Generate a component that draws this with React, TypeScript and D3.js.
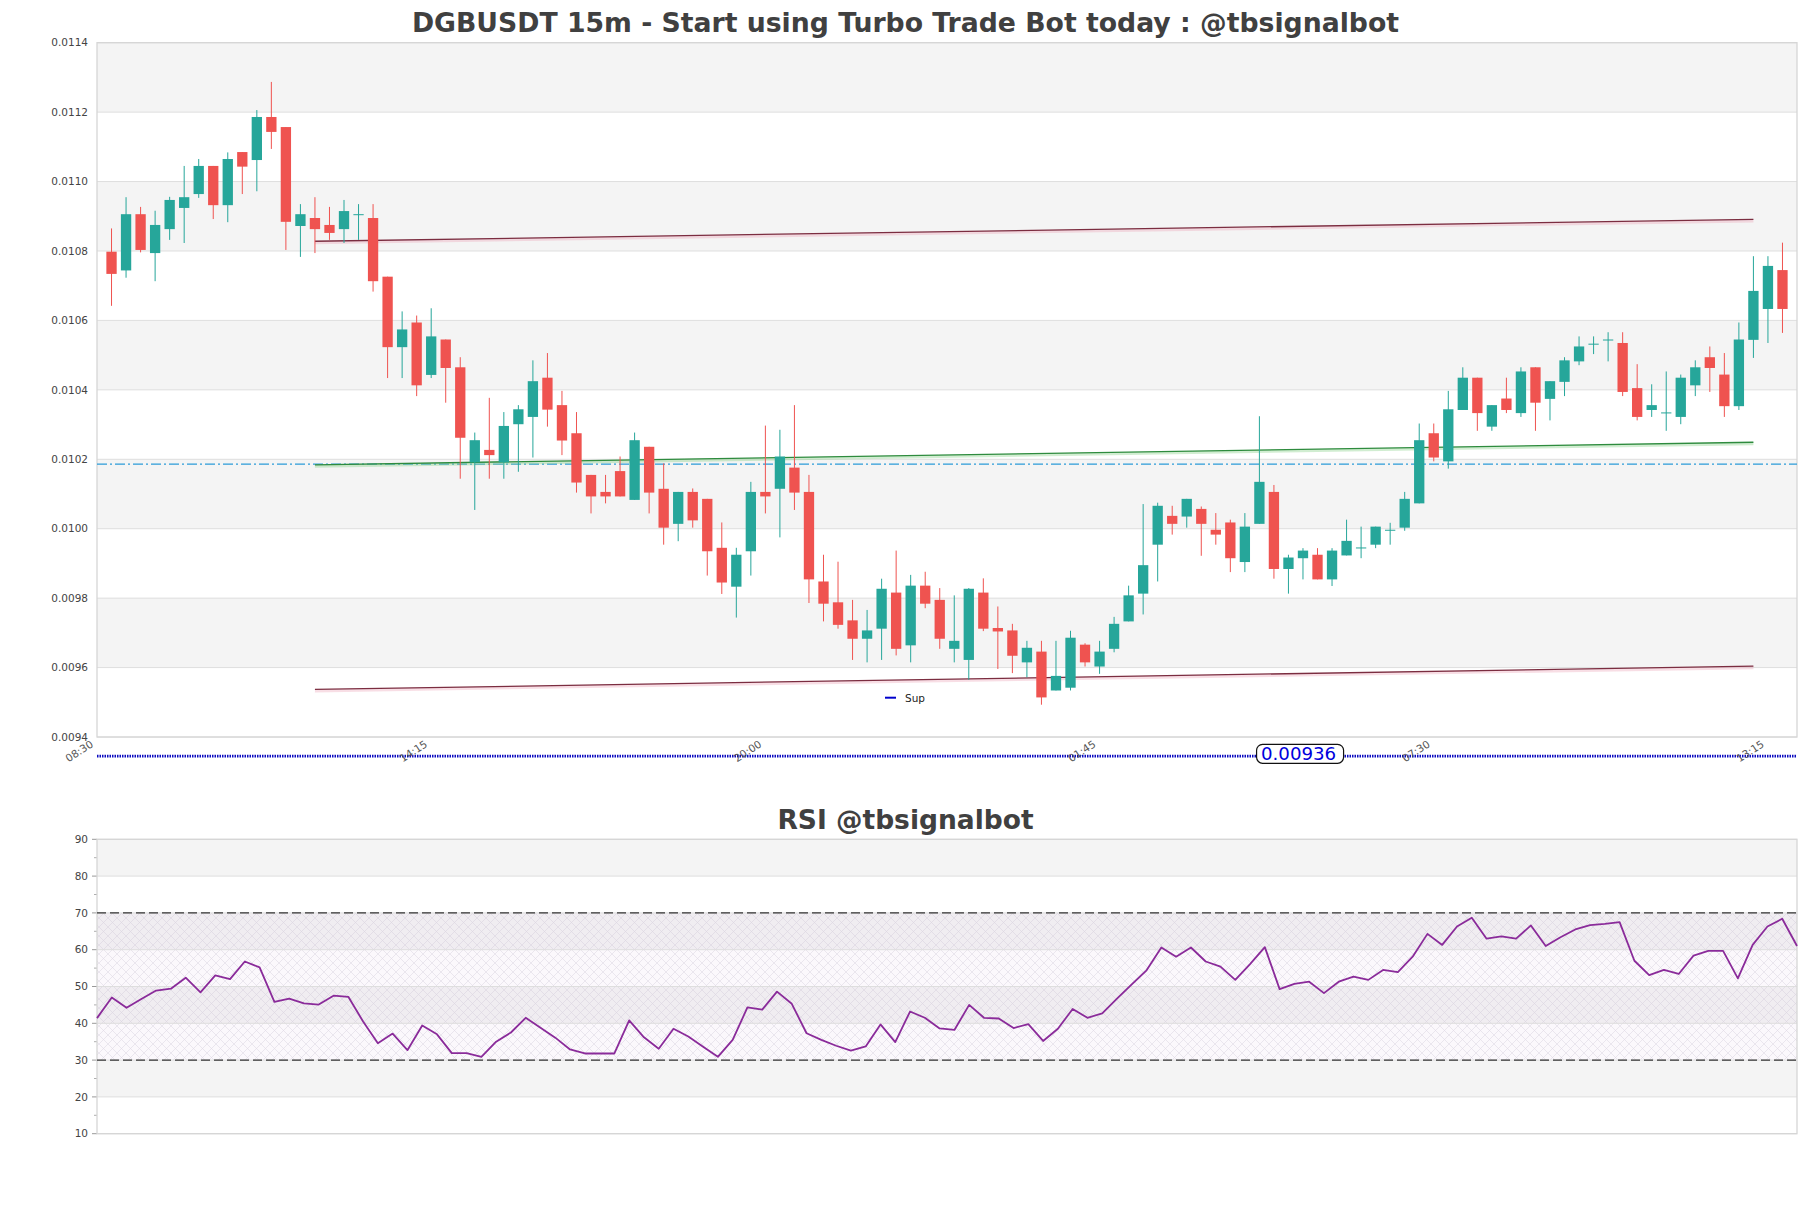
import React from "react";
import * as d3 from "d3";

// ---------- DATA ----------
const opens = [
  0.010798, 0.010744, 0.010906, 0.010794, 0.010863, 0.010924, 0.010964, 0.011045, 0.010932, 0.011085,
  0.011062, 0.011186, 0.011157, 0.010872, 0.010895, 0.010875, 0.010863, 0.010904, 0.010895, 0.010726,
  0.010523, 0.010594, 0.010443, 0.010545, 0.010465, 0.010191, 0.010227, 0.010191, 0.010301, 0.010322,
  0.010435, 0.010356, 0.010275, 0.010155, 0.010106, 0.010166, 0.010083, 0.010236, 0.010115, 0.010014,
  0.010106, 0.010086, 0.009945, 0.009833, 0.009935, 0.010106, 0.010115, 0.010176, 0.010106, 0.009848,
  0.009788, 0.009736, 0.009683, 0.009712, 0.009816, 0.009664, 0.009836, 0.009795, 0.009654, 0.009622,
  0.009816, 0.009714, 0.009707, 0.009615, 0.009646, 0.009534, 0.009542, 0.009666, 0.009603, 0.009654,
  0.009733, 0.009813, 0.009954, 0.010037, 0.010035, 0.010057, 0.009997, 0.010018, 0.009904, 0.010014,
  0.010106, 0.009884, 0.009915, 0.009925, 0.009854, 0.009923, 0.009944, 0.009954, 0.009995, 0.010003,
  0.010073, 0.010275, 0.010194, 0.010342, 0.010435, 0.010294, 0.010375, 0.010333, 0.010465, 0.010374,
  0.010423, 0.010482, 0.010531, 0.010543, 0.010535, 0.010405, 0.010342, 0.010333, 0.010322, 0.010413,
  0.010494, 0.010444, 0.010353, 0.010544, 0.010633, 0.010745,
];
const highs = [
  0.010865, 0.010955, 0.010927, 0.010916, 0.010956, 0.011045, 0.011065, 0.011045, 0.011084, 0.011085,
  0.011206, 0.011287, 0.011157, 0.010935, 0.010955, 0.010927, 0.010947, 0.010935, 0.010935, 0.010726,
  0.010626, 0.010614, 0.010635, 0.010545, 0.010494, 0.010277, 0.010377, 0.010336, 0.010356, 0.010485,
  0.010506, 0.010397, 0.010336, 0.010155, 0.010155, 0.010208, 0.010277, 0.010236, 0.010188, 0.010106,
  0.010116, 0.010086, 0.010018, 0.009945, 0.010135, 0.010297, 0.010285, 0.010356, 0.010155, 0.009925,
  0.009905, 0.009795, 0.009766, 0.009856, 0.009937, 0.009867, 0.009876, 0.009829, 0.009808, 0.009829,
  0.009857, 0.009776, 0.009726, 0.009677, 0.009677, 0.009677, 0.009706, 0.009670, 0.009677, 0.009746,
  0.009836, 0.010071, 0.010075, 0.010066, 0.010086, 0.010064, 0.010045, 0.010026, 0.010045, 0.010324,
  0.010126, 0.009925, 0.009944, 0.009944, 0.009944, 0.010026, 0.010006, 0.010006, 0.010017, 0.010106,
  0.010303, 0.010303, 0.010397, 0.010465, 0.010435, 0.010356, 0.010435, 0.010465, 0.010465, 0.010425,
  0.010494, 0.010554, 0.010554, 0.010566, 0.010566, 0.010474, 0.010416, 0.010453, 0.010444, 0.010485,
  0.010525, 0.010506, 0.010594, 0.010785, 0.010785, 0.010824,
];
const lows = [
  0.010642, 0.010723, 0.010796, 0.010713, 0.010832, 0.010823, 0.010953, 0.010892, 0.010883, 0.010964,
  0.010972, 0.011094, 0.010803, 0.010783, 0.010794, 0.010832, 0.010823, 0.010832, 0.010683, 0.010434,
  0.010434, 0.010382, 0.010434, 0.010363, 0.010144, 0.010054, 0.010144, 0.010144, 0.010164, 0.010205,
  0.010294, 0.010212, 0.010104, 0.010044, 0.010073, 0.010093, 0.010083, 0.010044, 0.009954, 0.009964,
  0.010003, 0.009865, 0.009812, 0.009744, 0.009865, 0.010044, 0.009975, 0.010054, 0.009786, 0.009733,
  0.009712, 0.009622, 0.009615, 0.009622, 0.009635, 0.009615, 0.009771, 0.009654, 0.009615, 0.009565,
  0.009705, 0.009596, 0.009584, 0.009572, 0.009493, 0.009534, 0.009534, 0.009603, 0.009582, 0.009644,
  0.009733, 0.009753, 0.009848, 0.009983, 0.010003, 0.009922, 0.009954, 0.009875, 0.009875, 0.010014,
  0.009856, 0.009813, 0.009854, 0.009854, 0.009835, 0.009923, 0.009915, 0.009944, 0.009954, 0.009994,
  0.010073, 0.010194, 0.010173, 0.010342, 0.010282, 0.010282, 0.010333, 0.010322, 0.010282, 0.010312,
  0.010382, 0.010471, 0.010503, 0.010482, 0.010382, 0.010312, 0.010322, 0.010282, 0.010301, 0.010382,
  0.010394, 0.010322, 0.010342, 0.010492, 0.010535, 0.010564,
];
const closes = [
  0.010734, 0.010906, 0.010803, 0.010875, 0.010947, 0.010955, 0.011045, 0.010932, 0.011065, 0.011043,
  0.011186, 0.011143, 0.010884, 0.010906, 0.010863, 0.010852, 0.010915, 0.010906, 0.010713, 0.010523,
  0.010574, 0.010413, 0.010554, 0.010463, 0.010262, 0.010255, 0.010212, 0.010296, 0.010344, 0.010425,
  0.010343, 0.010254, 0.010133, 0.010093, 0.010093, 0.010093, 0.010255, 0.010104, 0.010003, 0.010106,
  0.010024, 0.009935, 0.009845, 0.009925, 0.010106, 0.010093, 0.010208, 0.010104, 0.009854, 0.009784,
  0.009723, 0.009683, 0.009707, 0.009827, 0.009654, 0.009836, 0.009784, 0.009683, 0.009677, 0.009827,
  0.009712, 0.009704, 0.009634, 0.009657, 0.009514, 0.009576, 0.009686, 0.009615, 0.009646, 0.009726,
  0.009808, 0.009895, 0.010066, 0.010014, 0.010086, 0.010014, 0.009983, 0.009915, 0.010006, 0.010135,
  0.009884, 0.009917, 0.009937, 0.009854, 0.009937, 0.009965, 0.009946, 0.010006, 0.009997, 0.010086,
  0.010255, 0.010205, 0.010344, 0.010435, 0.010333, 0.010356, 0.010342, 0.010453, 0.010363, 0.010425,
  0.010485, 0.010525, 0.010533, 0.010545, 0.010394, 0.010322, 0.010356, 0.010335, 0.010435, 0.010465,
  0.010463, 0.010353, 0.010545, 0.010685, 0.010757, 0.010633,
];
const rsiValues = [
  41.4, 47.0, 44.2, 46.6, 48.9, 49.4, 52.4, 48.4, 53.0, 52.0, 56.8, 55.2, 45.8, 46.7, 45.4, 45.1, 47.5,
  47.2, 40.5, 34.6, 37.2, 32.7, 39.4, 37.0, 31.9, 31.9, 30.9, 35.0, 37.5, 41.5, 38.8, 36.1, 32.9, 31.8,
  31.8, 31.8, 40.8, 36.2, 33.1, 38.5, 36.4, 33.6, 30.9, 35.5, 44.3, 43.7, 48.6, 45.3, 37.3, 35.5, 33.9,
  32.6, 33.7, 39.7, 34.9, 43.2, 41.5, 38.6, 38.2, 45.0, 41.5, 41.3, 38.7, 39.8, 35.2, 38.5, 43.9, 41.5,
  42.7, 46.7, 50.6, 54.4, 60.6, 58.1, 60.6, 56.8, 55.4, 51.8, 56.1, 60.7, 49.3, 50.7, 51.3, 48.2, 51.3,
  52.7, 51.8, 54.5, 53.9, 58.1, 64.3, 61.3, 66.3, 68.7, 63.0, 63.6, 63.0, 66.6, 61.0, 63.4, 65.5, 66.7,
  67.0, 67.5, 57.0, 53.1, 54.5, 53.4, 58.4, 59.7, 59.7, 52.2, 61.3, 66.3, 68.4, 61.0,
];
const priceTicks = [0.0094, 0.0096, 0.0098, 0.01, 0.0102, 0.0104, 0.0106, 0.0108, 0.011, 0.0112, 0.0114];
const priceTickLabels = ["0.0094", "0.0096", "0.0098", "0.0100", "0.0102", "0.0104", "0.0106", "0.0108", "0.0110", "0.0112", "0.0114"];
const timeTickIndex = [-1, 22, 45, 68, 91, 114];
const timeTickLabels = ["08:30", "14:15", "20:00", "01:45", "07:30", "13:15"];
const rsiTicks = [10, 20, 30, 40, 50, 60, 70, 80, 90];
const rsiMinorTicks = [15, 25, 35, 45, 55, 65, 75, 85];
// trend lines: [startIndex, endIndex, startPrice, endPrice]
const resistanceLine = [14, 113, 0.010828, 0.010891];
const supportLine = [14, 113, 0.009537, 0.009604];
const greenLine = [14, 113, 0.010184, 0.010249];
const blueLevel = 0.010186;
const supLevel = 0.009345;
const supLabel = "0.00936";
const supLabelIndex = 81.8;

// ---------- LAYOUT ----------
const W = 1811;
const H = 1208;
const L = 97;
const R = 1797;
const mainTop = 42.7;
const mainBottom = 737;
const rsiTop = 839.3;
const rsiBottom = 1133.7;
const UP = "#26a69a";
const DOWN = "#ef5350";
const BAND = "#f4f4f4";
const GRID = "#dedede";
const FONT = "DejaVu Sans, Verdana, sans-serif";

export default function App() {
  const x = d3.scaleLinear().domain([-1, 116]).range([L, R]);
  const y = d3.scaleLinear().domain([0.0094, 0.0114]).range([mainBottom, mainTop]);
  const rx = d3.scaleLinear().domain([0, rsiValues.length - 1]).range([L, R]);
  const ry = d3.scaleLinear().domain([10, 90]).range([rsiBottom, rsiTop]);
  const step = x(1) - x(0);
  const bw = step * 0.71;

  const rsiPath = d3
    .line<number>()
    .x((_, i) => rx(i))
    .y((d) => ry(d))(rsiValues) as string;

  const trend = (t: number[], color: string, halo: string) => (
    <g>
      <line x1={x(t[0])} x2={x(t[1])} y1={y(t[2]) + 1.5} y2={y(t[3]) + 1.5} stroke={halo} strokeWidth={3} />
      <line x1={x(t[0])} x2={x(t[1])} y1={y(t[2])} y2={y(t[3])} stroke={color} strokeWidth={1.3} />
    </g>
  );

  return (
    <svg
      width={W}
      height={H}
      style={{ position: "absolute", left: 0, top: 0, background: "#fff" }}
      fontFamily={FONT}
    >
      <defs>
        <pattern id="hatch" width="9" height="9" patternUnits="userSpaceOnUse">
          <path d="M0,0L9,9M9,0L0,9" stroke="#cdc5d5" strokeWidth="0.6" fill="none" />
        </pattern>
        <clipPath id="mainClip">
          <rect x={L} y={mainTop} width={R - L} height={mainBottom - mainTop} />
        </clipPath>
      </defs>
      <rect x={0} y={0} width={W} height={H} fill="#fff" />

      {/* ---------- MAIN ---------- */}
      <text x={W / 2} y={31.7} textAnchor="middle" fontSize={26.7} fontWeight="bold" fill="#404040">
        DGBUSDT 15m - Start using Turbo Trade Bot today : @tbsignalbot
      </text>
      {priceTicks.slice(0, -1).map((t, i) =>
        i % 2 === 1 ? (
          <rect key={"b" + i} x={L} width={R - L} y={y(priceTicks[i + 1])} height={y(t) - y(priceTicks[i + 1])} fill={BAND} />
        ) : null
      )}
      {priceTicks.map((t, i) => (
        <line key={"g" + i} x1={L} x2={R} y1={y(t)} y2={y(t)} stroke={GRID} strokeWidth={1} />
      ))}
      {priceTicks.map((t, i) => (
        <text key={"yl" + i} x={88} y={y(t)} dy="0.35em" textAnchor="end" fontSize={10.5} fill="#444">
          {priceTickLabels[i]}
        </text>
      ))}
      <rect x={L} y={mainTop} width={R - L} height={mainBottom - mainTop} fill="none" stroke="#d6d6d6" strokeWidth={1.3} />

      <g clipPath="url(#mainClip)">
        <line x1={L} x2={R} y1={y(blueLevel)} y2={y(blueLevel)} stroke="#2b9bd8" strokeWidth={1.3} strokeDasharray="10,3,2,3" />
        {trend(resistanceLine, "#7b2d40", "rgba(235,160,180,0.35)")}
        {trend(supportLine, "#7b2d40", "rgba(235,160,180,0.35)")}
        {trend(greenLine, "#2e8b3e", "rgba(140,210,140,0.4)")}
        {opens.map((o, i) => {
          const c = closes[i];
          const col = c >= o ? UP : DOWN;
          const top = y(Math.max(o, c));
          const bot = y(Math.min(o, c));
          return (
            <g key={"c" + i}>
              <line x1={x(i)} x2={x(i)} y1={y(highs[i])} y2={y(lows[i])} stroke={col} strokeWidth={1} />
              <rect x={x(i) - bw / 2} width={bw} y={top} height={Math.max(bot - top, 1)} fill={col} />
            </g>
          );
        })}
      </g>

      {/* legend */}
      <line x1={885} x2={896} y1={697.7} y2={697.7} stroke="#0000cc" strokeWidth={2} />
      <text x={905} y={701.5} fontSize={10.5} fill="#222">Sup</text>

      {/* support level below axis */}
      <line x1={L} x2={R} y1={y(supLevel)} y2={y(supLevel)} stroke="#0a0ac0" strokeWidth={2.6} strokeDasharray="1.5,1" />
      {timeTickIndex.map((t, i) => (
        <text
          key={"xt" + i}
          transform={`translate(${x(t) - 3},${746}) rotate(-33)`}
          textAnchor="end"
          fontSize={10.5}
          fill="#555"
        >
          {timeTickLabels[i]}
        </text>
      ))}
      <rect x={x(supLabelIndex) - 43.5} y={744.3} width={87} height={19} rx={6} ry={6} fill="#fff" stroke="#111" strokeWidth={1.2} />
      <text x={x(supLabelIndex) - 1.5} y={760} textAnchor="middle" fontSize={18.2} fill="#0000dd">
        {supLabel}
      </text>

      {/* ---------- RSI ---------- */}
      <text x={W / 2} y={829.3} textAnchor="middle" fontSize={26.5} fontWeight="bold" fill="#404040">
        RSI @tbsignalbot
      </text>
      {rsiTicks.slice(0, -1).map((t, i) =>
        i % 2 === 1 ? (
          <rect key={"rb" + i} x={L} width={R - L} y={ry(rsiTicks[i + 1])} height={ry(t) - ry(rsiTicks[i + 1])} fill={BAND} />
        ) : null
      )}
      <rect x={L} width={R - L} y={ry(70)} height={ry(30) - ry(70)} fill="rgba(170,120,200,0.05)" />
      <rect x={L} width={R - L} y={ry(70)} height={ry(30) - ry(70)} fill="url(#hatch)" opacity={0.6} />
      {rsiTicks.map((t, i) => (
        <line key={"rg" + i} x1={L} x2={R} y1={ry(t)} y2={ry(t)} stroke={GRID} strokeWidth={1} />
      ))}
      {rsiTicks.map((t, i) => (
        <g key={"rt" + i}>
          <line x1={L - 5} x2={L} y1={ry(t)} y2={ry(t)} stroke="#999" strokeWidth={1} />
          <text x={88} y={ry(t)} dy="0.35em" textAnchor="end" fontSize={10.5} fill="#444">
            {t}
          </text>
        </g>
      ))}
      {rsiMinorTicks.map((t, i) => (
        <line key={"rm" + i} x1={L - 3} x2={L} y1={ry(t)} y2={ry(t)} stroke="#999" strokeWidth={0.8} />
      ))}
      <rect x={L} y={rsiTop} width={R - L} height={rsiBottom - rsiTop} fill="none" stroke="#d6d6d6" strokeWidth={1.3} />
      <line x1={L} x2={R} y1={ry(70)} y2={ry(70)} stroke="#333" strokeWidth={1.3} strokeDasharray="9,4" />
      <line x1={L} x2={R} y1={ry(30)} y2={ry(30)} stroke="#333" strokeWidth={1.3} strokeDasharray="9,4" />
      <path d={rsiPath} fill="none" stroke="#8a2b9a" strokeWidth={1.8} strokeLinejoin="round" />
    </svg>
  );
}
